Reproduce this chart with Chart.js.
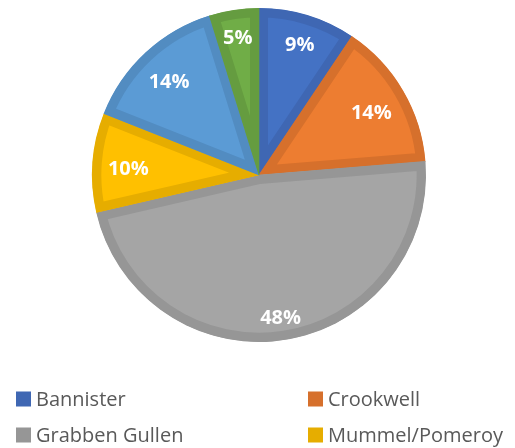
<!DOCTYPE html>
<html>
<head>
<meta charset="utf-8">
<script src="https://cdn.jsdelivr.net/npm/chart.js@4/dist/chart.umd.min.js"></script>
<style>
html,body{margin:0;padding:0;background:#fff;}
#wrap{width:515px;height:448px;position:relative;}
</style>
</head>
<body>
<div id="wrap"><canvas id="c" width="515" height="448"></canvas></div>
<script>
const categories = ['Bannister', 'Crookwell', 'Grabben Gullen', 'Mummel/Pomeroy', 'Rye Park', 'Other'];
const shares = [9.4, 14.3, 47.7, 9.6, 14.2, 4.8];
const fillColors = ['#4472C4', '#ED7D31', '#A5A5A5', '#FFC000', '#5B9BD5', '#70AD47'];
const edgeColors = ['#3F67B3', '#D6702C', '#969696', '#E6AD00', '#528CC1', '#659C40'];

const labelPlugin = {
  id: 'pctLabels',
  afterDatasetsDraw(chart) {
    const ctx = chart.ctx;
    const meta = chart.getDatasetMeta(0);
    const data = chart.data.datasets[0].data;
    const total = data.reduce((a, b) => a + b, 0);
    ctx.save();
    ctx.fillStyle = '#ffffff';
    ctx.font = 'bold 20px "Open Sans"';
    ctx.textAlign = 'center';
    ctx.textBaseline = 'middle';
    meta.data.forEach((arc, i) => {
      const p = arc.getProps(['x', 'y', 'startAngle', 'endAngle', 'outerRadius'], true);
      const mid = (p.startAngle + p.endAngle) / 2;
      const txt = Math.round(data[i] / total * 100) + '%';
      const w = ctx.measureText(txt).width, h = 16;
      const ext = Math.abs(w / 2 * Math.cos(mid)) + Math.abs(h / 2 * Math.sin(mid));
      const r = p.outerRadius - 15 - ext;
      ctx.fillText(txt, p.x + Math.cos(mid) * r, p.y + Math.sin(mid) * r + 4);
    });
    ctx.restore();
  }
};

const legendPlugin = {
  id: 'gridLegend',
  afterDraw(chart) {
    const ctx = chart.ctx;
    const labels = chart.data.labels;
    const colX = [16, 308];
    const rowY0 = 399, rowGap = 36, box = 15;
    ctx.save();
    ctx.font = '20px "Open Sans"';
    ctx.textBaseline = 'middle';
    ctx.textAlign = 'left';
    labels.forEach((lab, i) => {
      const x = colX[i % 2];
      const y = rowY0 + Math.floor(i / 2) * rowGap;
      ctx.fillStyle = chart.data.datasets[0].borderColor[i];
      ctx.fillRect(x, y - box / 2, box, box);
      ctx.fillStyle = '#595959';
      ctx.fillText(lab, x + box + 5, y + 1);
    });
    ctx.restore();
  }
};

new Chart(document.getElementById('c'), {
  type: 'pie',
  data: {
    labels: categories,
    datasets: [{
      data: shares,
      backgroundColor: fillColors,
      borderColor: edgeColors,
      borderWidth: 9,
      borderAlign: 'inner'
    }]
  },
  options: {
    responsive: false,
    animation: false,
    layout: { padding: { left: 92, right: 89, top: 8, bottom: 106 } },
    plugins: {
      legend: { display: false },
      tooltip: { enabled: false }
    }
  },
  plugins: [labelPlugin, legendPlugin]
});
</script>
</body>
</html>
